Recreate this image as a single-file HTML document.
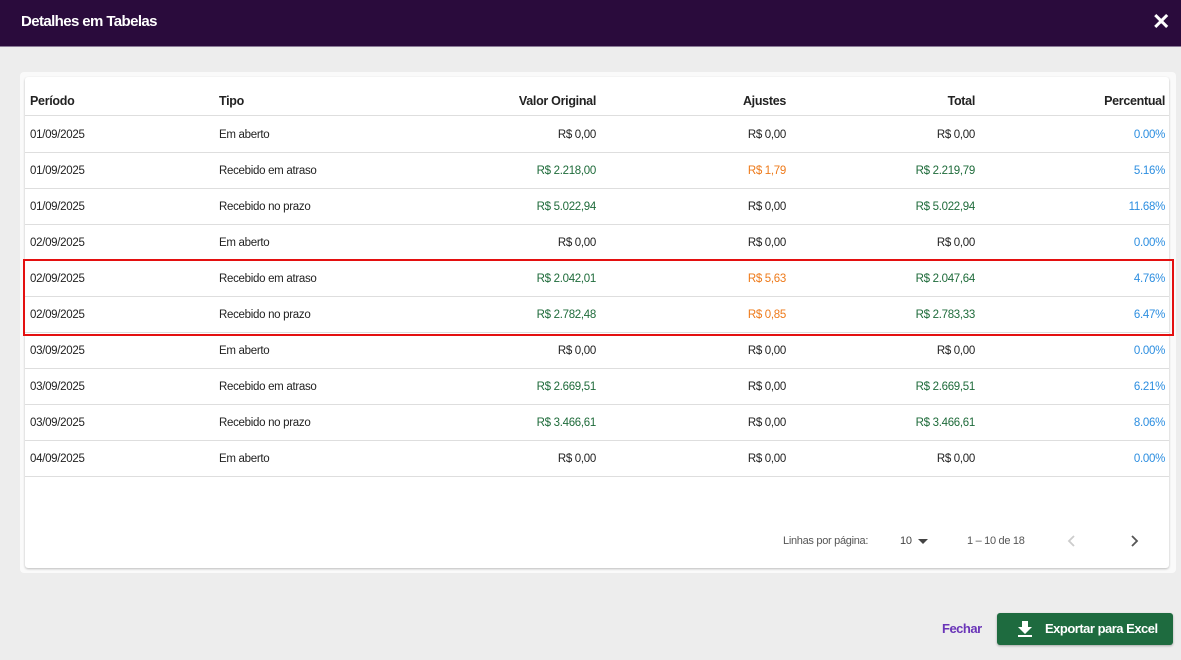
<!DOCTYPE html>
<html><head><meta charset="utf-8"><style>
*{margin:0;padding:0;box-sizing:border-box}
body{width:1181px;height:660px;background:#ededed;font-family:"Liberation Sans",sans-serif;position:relative;overflow:hidden;color:#222}
.hdr{position:absolute;left:0;top:0;width:1181px;height:47px;background:#2a0b3c;border-bottom:1px solid #8a7a96}
.hdr .t{position:absolute;left:21px;top:13px;color:#fff;font-weight:bold;font-size:15px;letter-spacing:-0.6px}
.hdr .x{position:absolute;left:1152px;top:9px;color:#fff;font-size:22px;font-weight:bold}
.card{position:absolute;left:20px;top:72px;width:1156px;height:501px;background:#fafafa;border-radius:4px}
.inner{position:absolute;left:25px;top:77px;width:1144px;height:491px;background:#fff;box-shadow:0 1px 2px rgba(0,0,0,.25);border-radius:3px}
.row{position:absolute;left:25px;width:1144px;height:36px;border-bottom:1px solid #dedede;font-size:11.5px;letter-spacing:-0.3px}
.row span{position:absolute;top:12px;white-space:nowrap}
.h span{font-weight:bold;font-size:12.5px;top:14px}
.c1{left:5px}.c2{left:194px}
.c3{right:573px}.c4{right:383px}.c5{right:194px}.c6{right:4px}
.g{color:#1e6b3a}.o{color:#ee7a1a}.b{color:#2c8ee0}
.red{position:absolute;left:23px;top:259px;width:1151px;height:77px;border:2px solid #e41010}
.pg{position:absolute;top:535px;font-size:11px;color:#555;letter-spacing:-0.3px}
.btn{position:absolute;left:997px;top:613px;width:176px;height:32px;background:#1e6b3f;border-radius:3px;box-shadow:0 1px 2px rgba(0,0,0,.3);color:#fff;font-weight:bold;font-size:13px;letter-spacing:-0.5px}
</style></head><body>
<div class="hdr"><div class="t">Detalhes em Tabelas</div><div class="x">✕</div></div>
<div class="card"></div><div class="inner"></div>
<div class="row h" style="top:80px"><span class="c1">Período</span><span class="c2">Tipo</span><span class="c3">Valor Original</span><span class="c4">Ajustes</span><span class="c5">Total</span><span class="c6">Percentual</span></div>
<div class="row" style="top:117px"><span class="c1">01/09/2025</span><span class="c2">Em aberto</span><span class="c3">R$ 0,00</span><span class="c4">R$ 0,00</span><span class="c5">R$ 0,00</span><span class="c6 b">0.00%</span></div>
<div class="row" style="top:153px"><span class="c1">01/09/2025</span><span class="c2">Recebido em atraso</span><span class="c3 g">R$ 2.218,00</span><span class="c4 o">R$ 1,79</span><span class="c5 g">R$ 2.219,79</span><span class="c6 b">5.16%</span></div>
<div class="row" style="top:189px"><span class="c1">01/09/2025</span><span class="c2">Recebido no prazo</span><span class="c3 g">R$ 5.022,94</span><span class="c4">R$ 0,00</span><span class="c5 g">R$ 5.022,94</span><span class="c6 b">11.68%</span></div>
<div class="row" style="top:225px"><span class="c1">02/09/2025</span><span class="c2">Em aberto</span><span class="c3">R$ 0,00</span><span class="c4">R$ 0,00</span><span class="c5">R$ 0,00</span><span class="c6 b">0.00%</span></div>
<div class="row" style="top:261px"><span class="c1">02/09/2025</span><span class="c2">Recebido em atraso</span><span class="c3 g">R$ 2.042,01</span><span class="c4 o">R$ 5,63</span><span class="c5 g">R$ 2.047,64</span><span class="c6 b">4.76%</span></div>
<div class="row" style="top:297px"><span class="c1">02/09/2025</span><span class="c2">Recebido no prazo</span><span class="c3 g">R$ 2.782,48</span><span class="c4 o">R$ 0,85</span><span class="c5 g">R$ 2.783,33</span><span class="c6 b">6.47%</span></div>
<div class="row" style="top:333px"><span class="c1">03/09/2025</span><span class="c2">Em aberto</span><span class="c3">R$ 0,00</span><span class="c4">R$ 0,00</span><span class="c5">R$ 0,00</span><span class="c6 b">0.00%</span></div>
<div class="row" style="top:369px"><span class="c1">03/09/2025</span><span class="c2">Recebido em atraso</span><span class="c3 g">R$ 2.669,51</span><span class="c4">R$ 0,00</span><span class="c5 g">R$ 2.669,51</span><span class="c6 b">6.21%</span></div>
<div class="row" style="top:405px"><span class="c1">03/09/2025</span><span class="c2">Recebido no prazo</span><span class="c3 g">R$ 3.466,61</span><span class="c4">R$ 0,00</span><span class="c5 g">R$ 3.466,61</span><span class="c6 b">8.06%</span></div>
<div class="row" style="top:441px"><span class="c1">04/09/2025</span><span class="c2">Em aberto</span><span class="c3">R$ 0,00</span><span class="c4">R$ 0,00</span><span class="c5">R$ 0,00</span><span class="c6 b">0.00%</span></div>
<div class="red"></div>
<div class="pg" style="left:783px">Linhas por página:</div>
<div class="pg" style="left:900px;color:#444">10</div>
<div style="position:absolute;left:918px;top:539px;width:0;height:0;border-left:5px solid transparent;border-right:5px solid transparent;border-top:5px solid #444"></div>
<div class="pg" style="left:967px">1 – 10 de 18</div>
<svg style="position:absolute;left:1066px;top:534px" width="12" height="14"><path d="M8 2 L3 7 L8 12" stroke="#ccc" stroke-width="1.8" fill="none"/></svg>
<svg style="position:absolute;left:1129px;top:534px" width="12" height="14"><path d="M3 2 L8 7 L3 12" stroke="#555" stroke-width="1.8" fill="none"/></svg>
<div style="position:absolute;left:942px;top:621px;color:#6a35b8;font-weight:bold;font-size:13px;letter-spacing:-0.5px">Fechar</div>
<div class="btn">
<svg style="position:absolute;left:20px;top:7px" width="16" height="17"><path d="M5 1h6v6h4l-7 7-7-7h4z" fill="#fff"/><rect x="1" y="15" width="14" height="2" fill="#fff"/></svg>
<span style="position:absolute;left:48px;top:8px">Exportar para Excel</span></div>
</body></html>
